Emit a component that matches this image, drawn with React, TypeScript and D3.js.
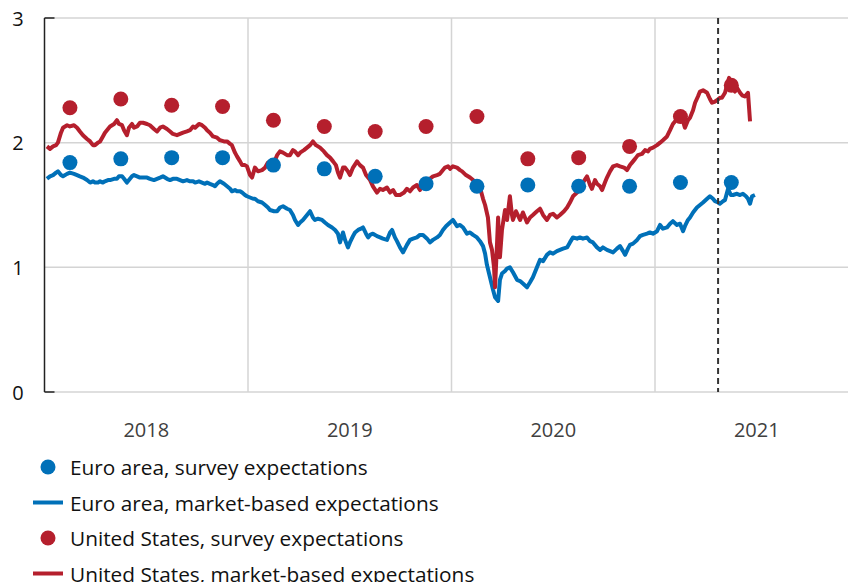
import * as d3 from 'd3';

// decimal year, percent
const euroMarket: [number, number][] = [
  [2018.012,1.71],[2018.027,1.73],[2018.042,1.74],[2018.057,1.76],[2018.066,1.77],[2018.081,1.74],[2018.091,1.73],[2018.111,1.75],[2018.125,1.76],[2018.145,1.75],[2018.160,1.74],[2018.174,1.73],[2018.189,1.72],[2018.209,1.70],[2018.224,1.68],[2018.238,1.69],[2018.248,1.68],[2018.263,1.68],[2018.273,1.69],[2018.287,1.68],[2018.297,1.69],[2018.312,1.70],[2018.322,1.70],[2018.342,1.71],[2018.356,1.71],[2018.366,1.73],[2018.381,1.73],[2018.391,1.71],[2018.405,1.68],[2018.415,1.70],[2018.430,1.73],[2018.440,1.74],[2018.455,1.73],[2018.469,1.72],[2018.484,1.72],[2018.504,1.72],[2018.518,1.71],[2018.538,1.70],[2018.553,1.71],[2018.568,1.72],[2018.582,1.73],[2018.602,1.71],[2018.617,1.70],[2018.631,1.71],[2018.651,1.71],[2018.666,1.70],[2018.681,1.69],[2018.700,1.70],[2018.715,1.69],[2018.730,1.69],[2018.740,1.68],[2018.759,1.69],[2018.774,1.68],[2018.789,1.67],[2018.799,1.68],[2018.813,1.67],[2018.828,1.66],[2018.838,1.65],[2018.848,1.67],[2018.862,1.69],[2018.882,1.67],[2018.897,1.65],[2018.912,1.63],[2018.921,1.61],[2018.936,1.62],[2018.946,1.61],[2018.961,1.61],[2018.971,1.60],[2018.985,1.58],[2018.995,1.57],
  [2019.010,1.56],[2019.025,1.55],[2019.034,1.55],[2019.049,1.53],[2019.069,1.52],[2019.084,1.50],[2019.098,1.48],[2019.108,1.46],[2019.128,1.45],[2019.143,1.45],[2019.157,1.48],[2019.172,1.49],[2019.192,1.47],[2019.206,1.46],[2019.221,1.42],[2019.231,1.38],[2019.246,1.34],[2019.256,1.36],[2019.270,1.38],[2019.290,1.42],[2019.305,1.45],[2019.319,1.40],[2019.329,1.38],[2019.344,1.39],[2019.364,1.38],[2019.378,1.36],[2019.393,1.34],[2019.413,1.32],[2019.428,1.30],[2019.442,1.27],[2019.452,1.20],[2019.467,1.28],[2019.477,1.22],[2019.491,1.16],[2019.501,1.20],[2019.516,1.25],[2019.526,1.28],[2019.541,1.30],[2019.555,1.31],[2019.565,1.32],[2019.580,1.27],[2019.590,1.24],[2019.600,1.26],[2019.614,1.27],[2019.634,1.25],[2019.649,1.24],[2019.663,1.23],[2019.683,1.22],[2019.698,1.28],[2019.708,1.30],[2019.722,1.24],[2019.732,1.21],[2019.747,1.16],[2019.762,1.12],[2019.781,1.18],[2019.796,1.22],[2019.811,1.23],[2019.830,1.24],[2019.845,1.26],[2019.860,1.26],[2019.880,1.23],[2019.894,1.20],[2019.909,1.22],[2019.929,1.24],[2019.943,1.26],[2019.958,1.30],[2019.973,1.33],[2019.993,1.36],
  [2020.007,1.38],[2020.027,1.33],[2020.042,1.34],[2020.057,1.32],[2020.076,1.27],[2020.091,1.28],[2020.106,1.26],[2020.125,1.24],[2020.140,1.21],[2020.155,1.17],[2020.165,1.11],[2020.174,1.02],[2020.189,0.92],[2020.204,0.82],[2020.214,0.76],[2020.224,0.74],[2020.229,0.73],[2020.238,0.90],[2020.248,0.95],[2020.263,0.97],[2020.273,0.99],[2020.287,1.00],[2020.302,0.96],[2020.322,0.90],[2020.337,0.89],[2020.351,0.87],[2020.371,0.84],[2020.386,0.88],[2020.400,0.92],[2020.420,1.00],[2020.435,1.06],[2020.450,1.05],[2020.469,1.10],[2020.484,1.12],[2020.499,1.11],[2020.518,1.13],[2020.533,1.14],[2020.548,1.15],[2020.568,1.16],[2020.582,1.20],[2020.597,1.24],[2020.617,1.23],[2020.631,1.24],[2020.646,1.23],[2020.666,1.24],[2020.681,1.21],[2020.695,1.20],[2020.715,1.16],[2020.730,1.14],[2020.744,1.16],[2020.764,1.14],[2020.779,1.13],[2020.794,1.12],[2020.813,1.15],[2020.828,1.17],[2020.843,1.13],[2020.853,1.10],[2020.867,1.15],[2020.877,1.18],[2020.892,1.19],[2020.912,1.22],[2020.926,1.25],[2020.941,1.26],[2020.961,1.27],[2020.975,1.28],[2020.990,1.27],
  [2021.010,1.29],[2021.025,1.34],[2021.039,1.31],[2021.059,1.32],[2021.074,1.35],[2021.088,1.37],[2021.108,1.34],[2021.123,1.35],[2021.138,1.29],[2021.147,1.33],[2021.162,1.38],[2021.172,1.40],[2021.187,1.44],[2021.206,1.48],[2021.221,1.50],[2021.236,1.52],[2021.256,1.55],[2021.270,1.57],[2021.285,1.55],[2021.295,1.53],[2021.310,1.52],[2021.319,1.51],[2021.334,1.53],[2021.344,1.54],[2021.359,1.63],[2021.373,1.58],[2021.383,1.58],[2021.403,1.59],[2021.418,1.58],[2021.432,1.59],[2021.447,1.57],[2021.457,1.55],[2021.467,1.51],[2021.477,1.57],[2021.491,1.58],
];

const usMarket: [number, number][] = [
  [2018.012,1.97],[2018.027,1.95],[2018.042,1.97],[2018.057,1.98],[2018.066,2.00],[2018.081,2.08],[2018.091,2.12],[2018.111,2.14],[2018.125,2.13],[2018.145,2.14],[2018.160,2.12],[2018.174,2.09],[2018.189,2.06],[2018.209,2.03],[2018.224,2.01],[2018.238,1.98],[2018.248,1.98],[2018.263,2.00],[2018.273,2.01],[2018.287,2.05],[2018.297,2.08],[2018.312,2.11],[2018.322,2.13],[2018.342,2.15],[2018.356,2.18],[2018.366,2.15],[2018.381,2.14],[2018.391,2.10],[2018.405,2.06],[2018.415,2.12],[2018.430,2.15],[2018.440,2.12],[2018.455,2.13],[2018.469,2.16],[2018.484,2.16],[2018.504,2.15],[2018.518,2.14],[2018.538,2.11],[2018.553,2.09],[2018.568,2.12],[2018.582,2.13],[2018.602,2.11],[2018.617,2.09],[2018.631,2.07],[2018.651,2.06],[2018.666,2.07],[2018.681,2.08],[2018.700,2.09],[2018.715,2.10],[2018.730,2.13],[2018.740,2.12],[2018.759,2.15],[2018.774,2.14],[2018.789,2.12],[2018.799,2.10],[2018.813,2.08],[2018.828,2.05],[2018.848,2.04],[2018.862,2.02],[2018.882,2.01],[2018.897,2.01],[2018.912,1.99],[2018.921,1.98],[2018.936,1.92],[2018.946,1.89],[2018.961,1.85],[2018.971,1.82],[2018.985,1.82],[2018.995,1.81],
  [2019.010,1.74],[2019.020,1.72],[2019.034,1.80],[2019.049,1.77],[2019.069,1.78],[2019.084,1.80],[2019.098,1.84],[2019.108,1.85],[2019.128,1.84],[2019.143,1.90],[2019.157,1.93],[2019.172,1.92],[2019.192,1.90],[2019.206,1.90],[2019.221,1.94],[2019.231,1.93],[2019.246,1.90],[2019.256,1.92],[2019.275,1.94],[2019.290,1.96],[2019.305,1.98],[2019.319,2.01],[2019.334,1.98],[2019.354,1.96],[2019.373,1.93],[2019.388,1.90],[2019.403,1.88],[2019.418,1.85],[2019.432,1.82],[2019.442,1.76],[2019.452,1.72],[2019.467,1.80],[2019.477,1.80],[2019.491,1.77],[2019.501,1.74],[2019.516,1.80],[2019.536,1.85],[2019.550,1.82],[2019.565,1.80],[2019.580,1.74],[2019.600,1.70],[2019.614,1.65],[2019.634,1.60],[2019.649,1.63],[2019.663,1.62],[2019.683,1.64],[2019.698,1.60],[2019.713,1.62],[2019.727,1.58],[2019.747,1.58],[2019.767,1.60],[2019.781,1.63],[2019.796,1.61],[2019.811,1.64],[2019.830,1.66],[2019.845,1.62],[2019.860,1.68],[2019.880,1.70],[2019.894,1.71],[2019.909,1.73],[2019.929,1.74],[2019.943,1.75],[2019.958,1.78],[2019.968,1.80],[2019.983,1.81],[2019.993,1.79],
  [2020.007,1.81],[2020.027,1.80],[2020.042,1.78],[2020.052,1.77],[2020.071,1.74],[2020.091,1.72],[2020.106,1.70],[2020.125,1.66],[2020.140,1.64],[2020.155,1.55],[2020.165,1.50],[2020.179,1.40],[2020.189,1.20],[2020.199,1.14],[2020.209,1.00],[2020.214,0.84],[2020.224,1.20],[2020.229,1.40],[2020.233,1.25],[2020.238,1.08],[2020.248,1.30],[2020.263,1.46],[2020.273,1.38],[2020.287,1.57],[2020.297,1.42],[2020.302,1.38],[2020.317,1.45],[2020.337,1.38],[2020.351,1.44],[2020.371,1.36],[2020.386,1.40],[2020.400,1.42],[2020.420,1.45],[2020.435,1.47],[2020.450,1.42],[2020.469,1.38],[2020.484,1.42],[2020.499,1.43],[2020.518,1.40],[2020.533,1.42],[2020.553,1.45],[2020.568,1.48],[2020.582,1.52],[2020.597,1.57],[2020.617,1.60],[2020.631,1.64],[2020.646,1.68],[2020.666,1.73],[2020.681,1.66],[2020.690,1.63],[2020.705,1.70],[2020.715,1.67],[2020.730,1.65],[2020.740,1.62],[2020.754,1.68],[2020.764,1.72],[2020.779,1.77],[2020.794,1.81],[2020.813,1.82],[2020.828,1.81],[2020.848,1.80],[2020.862,1.78],[2020.877,1.82],[2020.887,1.84],[2020.902,1.87],[2020.916,1.90],[2020.936,1.91],[2020.951,1.94],[2020.966,1.93],[2020.975,1.95],[2020.990,1.96],
  [2021.010,1.98],[2021.025,2.00],[2021.039,2.02],[2021.059,2.05],[2021.074,2.10],[2021.088,2.15],[2021.108,2.19],[2021.123,2.22],[2021.138,2.17],[2021.147,2.12],[2021.162,2.18],[2021.172,2.20],[2021.187,2.26],[2021.197,2.32],[2021.211,2.37],[2021.221,2.41],[2021.236,2.42],[2021.256,2.40],[2021.270,2.35],[2021.280,2.32],[2021.295,2.33],[2021.305,2.34],[2021.319,2.36],[2021.329,2.36],[2021.344,2.40],[2021.354,2.46],[2021.364,2.52],[2021.373,2.48],[2021.383,2.43],[2021.393,2.41],[2021.403,2.44],[2021.418,2.40],[2021.428,2.38],[2021.442,2.37],[2021.452,2.39],[2021.457,2.40],[2021.467,2.17],
];

const surveyDates = [2018.125, 2018.375, 2018.625, 2018.875, 2019.125, 2019.375, 2019.625, 2019.875, 2020.125, 2020.375, 2020.625, 2020.875, 2021.125, 2021.375];
const euroSurvey = [1.84, 1.87, 1.88, 1.88, 1.82, 1.79, 1.73, 1.67, 1.65, 1.66, 1.65, 1.65, 1.68, 1.68];
const usSurvey = [2.28, 2.35, 2.30, 2.29, 2.18, 2.13, 2.09, 2.13, 2.21, 1.87, 1.88, 1.97, 2.21, 2.46];

const years = [2018, 2019, 2020, 2021];
const yTicks = [0, 1, 2, 3];
const cutoffDate = 2021.31;

const BLUE = '#0070b8';
const RED = '#b51f2d';
const FONT = '"Open Sans", Lato, sans-serif';

const legendItems = [
  { label: 'Euro area, survey expectations', color: BLUE, kind: 'dot' },
  { label: 'Euro area, market-based expectations', color: BLUE, kind: 'line' },
  { label: 'United States, survey expectations', color: RED, kind: 'dot' },
  { label: 'United States, market-based expectations', color: RED, kind: 'line' },
];

export default function App() {
  const width = 848;
  const height = 582;

  const x = d3.scaleLinear().domain([2018, 2022]).range([44.5, 858.5]);
  const y = d3.scaleLinear().domain([0, 3]).range([392, 18]);

  const line = d3.line<[number, number]>()
    .x(d => x(d[0]))
    .y(d => y(d[1]));

  const grid = '#d4d4d4';

  return (
    <svg width={width} height={height} style={{ position: 'absolute', left: 0, top: 0, background: '#fff' }}>
      {/* horizontal grid */}
      {yTicks.map(t => (
        <line key={'h' + t} x1={x(2018)} x2={width} y1={y(t)} y2={y(t)} stroke={grid} strokeWidth={1.5} />
      ))}
      {/* vertical grid at year boundaries */}
      {years.slice(1).map(yr => (
        <line key={'v' + yr} x1={x(yr)} x2={x(yr)} y1={y(3)} y2={y(0)} stroke={grid} strokeWidth={1.5} />
      ))}
      {/* left axis */}
      <line x1={x(2018)} x2={x(2018)} y1={y(3)} y2={y(0)} stroke="#222" strokeWidth={1.5} />
      {[0, 3].map(t => (
        <line key={'tk' + t} x1={x(2018)} x2={x(2018) + 10} y1={y(t)} y2={y(t)} stroke="#222" strokeWidth={1.5} />
      ))}
      {yTicks.map(t => (
        <text key={'yl' + t} x={18} y={y(t)} dominantBaseline="central" textAnchor="middle"
          fontFamily={FONT} fontSize={20} fill="#111">{t}</text>
      ))}
      {years.map(yr => (
        <text key={'xl' + yr} x={x(yr + 0.5)} y={429} dominantBaseline="central" textAnchor="middle"
          fontFamily={FONT} fontSize={20} fill="#404040">{yr}</text>
      ))}

      {/* market-based lines */}
      <path d={line(euroMarket) || ''} fill="none" stroke={BLUE} strokeWidth={4} strokeLinejoin="round" />
      <path d={line(usMarket) || ''} fill="none" stroke={RED} strokeWidth={4} strokeLinejoin="round" />

      {/* survey dots */}
      {surveyDates.map((d, i) => (
        <circle key={'us' + i} cx={x(d)} cy={y(usSurvey[i])} r={7.5} fill={RED} />
      ))}
      {surveyDates.map((d, i) => (
        <circle key={'ea' + i} cx={x(d)} cy={y(euroSurvey[i])} r={7.5} fill={BLUE} />
      ))}

      {/* cutoff */}
      <line x1={x(cutoffDate)} x2={x(cutoffDate)} y1={y(3)} y2={y(0)} stroke="#333" strokeWidth={2} strokeDasharray="6,4" />

      {/* legend */}
      {legendItems.map((item, i) => {
        const cy = 467 + i * 35.5;
        return (
          <g key={'lg' + i}>
            {item.kind === 'dot'
              ? <circle cx={48} cy={cy} r={7.5} fill={item.color} />
              : <line x1={33} x2={63} y1={cy} y2={cy} stroke={item.color} strokeWidth={4} />}
            <text x={70} y={cy} dominantBaseline="central" fontFamily={FONT} fontSize={20.8} fill="#111">{item.label}</text>
          </g>
        );
      })}
    </svg>
  );
}
